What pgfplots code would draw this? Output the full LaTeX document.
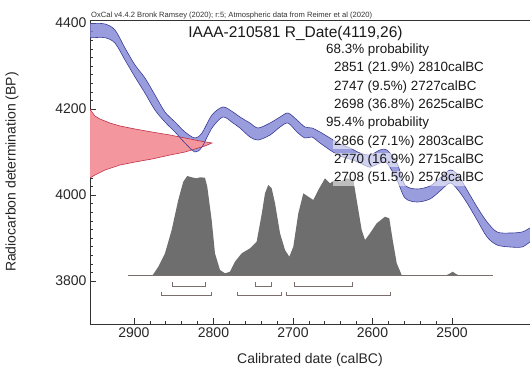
\documentclass[border=0pt]{standalone}
\usepackage{fontspec}
\setmainfont{Liberation Sans}
\usepackage{pgfplots}
\pgfplotsset{compat=1.18}
\usepgfplotslibrary{fillbetween}
\usetikzlibrary{calc}
\usepackage{pgfplotstable}

\definecolor{bandfill}{RGB}{128,132,214}
\definecolor{bandedge}{RGB}{58,60,150}
\definecolor{redfill}{RGB}{244,150,158}
\definecolor{rededge}{RGB}{190,50,70}
\definecolor{postgrey}{RGB}{110,110,110}
\definecolor{brk}{RGB}{125,110,110}

\pgfplotstableread{
yr top bot
2960.0 4399.3 4365.8
2953.2 4399.3 4365.8
2936.5 4397.7 4365.8
2923.9 4383.7 4353.5
2911.3 4341.9 4314.0
2898.7 4302.3 4274.4
2886.2 4272.1 4237.2
2873.6 4232.6 4197.7
2861.0 4193.0 4169.8
2848.4 4169.8 4146.5
2835.8 4146.5 4120.9
2823.3 4132.6 4100.0
2814.5 4144.2 4111.6
2801.9 4186.0 4155.8
2788.1 4204.7 4181.4
2775.5 4193.0 4167.4
2766.7 4181.4 4155.8
2754.1 4167.4 4134.9
2744.0 4155.8 4127.9
2728.9 4167.4 4139.5
2716.3 4181.4 4158.1
2706.3 4190.7 4167.4
2695.0 4174.4 4146.5
2684.9 4158.1 4132.6
2676.1 4155.8 4134.9
2666.0 4146.5 4120.9
2653.5 4132.6 4104.7
2640.9 4118.6 4090.7
2628.3 4109.3 4083.7
2615.7 4097.7 4074.4
2603.1 4093.0 4065.1
2590.6 4104.7 4074.4
2581.8 4104.7 4074.4
2569.2 4074.4 4034.9
2559.1 4023.3 3993.0
2544.0 4014.0 3983.7
2527.7 4020.9 3990.7
2515.1 4039.5 4009.3
2502.5 4058.1 4027.9
2492.4 4046.5 4011.6
2481.1 4011.6 3981.4
2468.5 3972.1 3941.9
2455.9 3937.2 3902.3
2443.3 3914.0 3883.7
2427.0 3911.6 3879.1
2411.9 3914.0 3879.1
2401.9 3923.3 3890.7
2395.6 3927.9 3895.3
}\band

\pgfplotstableread{
yr bp
2877.0 3812
2869.4 3833.3
2861.0 3864.4
2852.6 3918.6
2844.3 3988.4
2838.0 4030.9
2833.0 4044.2
2827.4 4041.2
2821.1 4038.8
2817.0 4041.2
2810.7 4040.2
2807.8 4019.3
2802.3 3941.9
2798.1 3864.4
2791.8 3825.6
2785.5 3817.9
2779.2 3821.6
2773.0 3844.9
2764.5 3864.4
2754.1 3876.0
2745.7 3891.4
2739.4 3955.0
2735.2 4003.9
2731.1 4023.3
2726.8 4015.6
2722.6 3980.7
2716.3 3910.9
2710.0 3872.1
2704.6 3856.5
2699.6 3879.8
2693.3 3957.4
2687.0 4003.9
2680.7 3996.0
2674.5 3988.4
2668.2 4011.6
2659.7 4038.8
2653.4 4027.2
2647.2 4034.9
2640.9 4031.0
2632.4 4038.8
2624.1 4034.9
2619.9 3988.4
2613.6 3918.6
2609.4 3895.3
2603.1 3910.9
2594.7 3934.2
2584.3 3949.5
2578.9 3945.8
2574.6 3895.3
2569.5 3841.2
2563.3 3813.9
2561.2 3812
}\post

\pgfplotstableread{
yr bp
2960.0 4202.3
2955.3 4199.0
2949.1 4183.7
2942.8 4176.7
2930.2 4167.4
2917.6 4160.5
2898.7 4153.5
2877.4 4146.5
2854.7 4139.5
2835.8 4132.6
2817.0 4125.6
2801.9 4121.0
2810.7 4114.0
2823.3 4107.0
2835.8 4100.0
2854.7 4093.0
2877.4 4083.7
2898.7 4076.7
2917.6 4069.8
2936.5 4058.1
2949.1 4046.5
2955.3 4039.5
2960.0 4037.0
}\rdate

\begin{document}
\begin{tikzpicture}
\begin{axis}[
  scale only axis, width=440pt, height=304pt,
  x dir=reverse, xmin=2401.9, xmax=2955.3, ymin=3700, ymax=4407,
  axis x line=bottom, axis y line=left,
  axis line style={-, black!80, line width=0.7pt},
  xtick pos=bottom, ytick pos=left,
  xtick={2500,2600,2700,2800,2900}, ytick={3800,4000,4200,4400},
  minor x tick num=4, minor y tick num=9,
  tick align=inside, major tick length=6pt, minor tick length=3pt,
  every tick/.style={black!80, line width=0.6pt},
  /pgf/number format/assume math mode=true,
  /pgf/number format/1000 sep={},
  ticklabel style={font=\fontsize{14}{16}\selectfont, text=black!85},
  xlabel={Calibrated date (calBC)}, ylabel={Radiocarbon determination (BP)},
  label style={font=\fontsize{14}{16}\selectfont, text=black!85},
  xlabel style={at={(axis description cs:0.5,-0.118)}, anchor=center},
  ylabel style={at={(axis description cs:-0.177,0.5)}, anchor=center},
  clip=true,
]
\coordinate (sw) at (rel axis cs:0,0);
\coordinate (ne) at (rel axis cs:1,1);

% radiocarbon date distribution
\addplot[fill=redfill, draw=rededge, line width=0.6pt] table[x=yr, y=bp] {\rdate} -- cycle;

% calibration curve band
\addplot[draw=none, name path=top, smooth, tension=0.5] table[x=yr, y=top] {\band};
\addplot[draw=none, name path=bot, smooth, tension=0.5] table[x=yr, y=bot] {\band};
\addplot[bandfill, fill opacity=0.8] fill between[of=top and bot];
\addplot[bandedge, line width=0.6pt, smooth, tension=0.5] table[x=yr, y=top] {\band};
\addplot[bandedge, line width=0.6pt, smooth, tension=0.5] table[x=yr, y=bot] {\band};

% posterior
\addplot[fill=postgrey, draw=none] table[x=yr, y=bp] {\post} -- cycle;
\addplot[fill=postgrey, draw=none] coordinates {(2508.8,3812) (2503.8,3816.3) (2499.1,3821.6) (2495.0,3816.3) (2489.9,3812)} -- cycle;
\addplot[brk, line width=0.7pt] coordinates {(2907.5,3812) (2448.4,3812)};

% 68.3% brackets
\addplot[brk, line width=0.9pt] coordinates {(2851,3798) (2851,3787) (2810,3787) (2810,3798)};
\addplot[brk, line width=0.9pt] coordinates {(2747,3798) (2747,3787) (2727,3787) (2727,3798)};
\addplot[brk, line width=0.9pt] coordinates {(2698,3798) (2698,3787) (2625,3787) (2625,3798)};
% 95.4% brackets
\addplot[brk, line width=0.9pt] coordinates {(2866,3775) (2866,3766) (2803,3766) (2803,3775)};
\addplot[brk, line width=0.9pt] coordinates {(2770,3775) (2770,3766) (2715,3766) (2715,3775)};
\addplot[brk, line width=0.9pt] coordinates {(2708,3775) (2708,3766) (2578,3766) (2578,3775)};

\end{axis}
\draw[black!80, line width=0.7pt] (sw |- ne) -- (ne);
\node[anchor=south west, inner sep=1pt, font=\fontsize{7.6}{8}\selectfont, text=black!80] at (sw |- ne) {OxCal v4.4.2 Bronk Ramsey (2020); r:5; Atmospheric data from Reimer et al (2020)};
\node[font=\fontsize{15.5}{18}\selectfont, text=black!90] at ($(sw)+(205.5pt,291pt)$) {IAAA-210581 R\_Date(4119,26)};
\begin{scope}[every node/.style={anchor=west, font=\fontsize{13.4}{16}\selectfont, text=black!90, fill=white, fill opacity=0.55, text opacity=1, inner sep=1pt}]
\node at ($(sw)+(235pt,274pt)$) {68.3\% probability};
\node at ($(sw)+(243pt,255.7pt)$) {2851 (21.9\%) 2810calBC};
\node at ($(sw)+(243pt,237.4pt)$) {2747 (9.5\%) 2727calBC};
\node at ($(sw)+(243pt,219pt)$) {2698 (36.8\%) 2625calBC};
\node at ($(sw)+(235pt,200.7pt)$) {95.4\% probability};
\node at ($(sw)+(243pt,182.4pt)$) {2866 (27.1\%) 2803calBC};
\node at ($(sw)+(243pt,164pt)$) {2770 (16.9\%) 2715calBC};
\node at ($(sw)+(243pt,145.7pt)$) {2708 (51.5\%) 2578calBC};
\end{scope}
\pgfresetboundingbox
\path[use as bounding box] ($(sw)+(-90pt,-52pt)$) rectangle ($(ne)+(0pt,20pt)$);
\end{tikzpicture}
\end{document}
